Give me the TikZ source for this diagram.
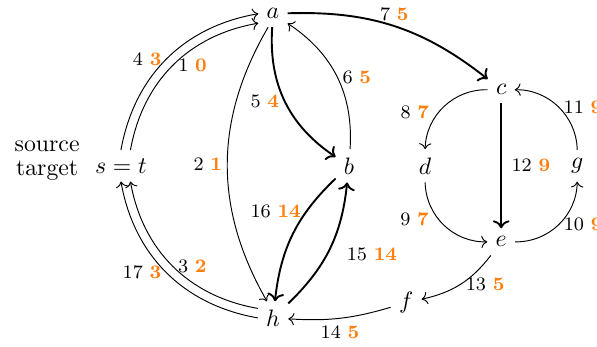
\documentclass[tikz,border=0pt]{standalone}
\usepackage{amsmath}
\usepackage{tikz}
\usetikzlibrary{arrows.meta,positioning}
\definecolor{flowcol}{RGB}{255,127,14}
\newcommand{\fl}[2]{#1~\textbf{\color{flowcol}#2}}

\begin{document}
\begin{tikzpicture}[x=32pt,y=32pt,lbl/.style={font=\footnotesize,inner sep=2pt},heavy/.style={thick}]
\useasboundingbox (-3.59,-0.37) rectangle (4.26,4.18);
\node (h) at (0,0) {$h$};
\node (a) at (0,4) {$a$};
\node (b) at (1,2) {$b$};
\node (d) at (2,2) {$d$};
\node (c) at (3,3) {$c$};
\node (e) at (3,1) {$e$};
\node (g) at (4,2) {$g$};
\node (f) at (1.75,0.2) {$f$};
\node (st) at (-2,2) {$s=t$};
\node[align=center] (src) at (-2.97,2.07) {source\\[-2pt]target};
% edges at the source/target
\draw[->] (st.north) to[bend left=35] node[lbl,left] {\fl{4}{3}} (a.west);
\draw[->] ([xshift=4pt]st.north) to[bend left=35] node[lbl,right] {\fl{1}{0}} ([yshift=-4pt]a.west);
\draw[->] (h.west) to[bend left=35] node[lbl,left] {\fl{17}{3}} (st.south);
\draw[->] ([yshift=4pt]h.west) to[bend left=35] node[lbl,right] {\fl{3}{2}} ([xshift=4pt]st.south);
\draw[->] (a.250) to[bend right=30] node[lbl,left] {\fl{2}{1}} (h.110);
% a, b, h
\draw[->,heavy] (a) to[bend right=30] node[lbl,left] {\fl{5}{4}} (b);
\draw[->] (b) to[bend right=30] node[lbl,right] {\fl{6}{5}} (a);
\draw[->,heavy] (b) to[bend right=20] node[lbl,left,pos=0.3] {\fl{16}{14}} (h);
\draw[->,heavy] (h) to[bend right=20] node[lbl,right=6pt,pos=0.45] {\fl{15}{14}} (b);
% c, d, e, g
\draw[->,heavy] (a) to[bend left=20] node[lbl,above] {\fl{7}{5}} (c);
\foreach \x/\y/\n/\v/\s/\sep/\p in {c/d/8/7/left/2pt/0.58,d/e/9/7/left/2pt/0.42,e/g/10/9/right/0pt/0.5,g/c/11/9/right/0pt/0.5}{\draw[->] (\x) to[bend right=45] node[lbl,\s=\sep,pos=\p] {\fl{\n}{\v}} (\y);}
\draw[->,heavy] (c) -- node[lbl,right=2pt] {\fl{12}{9}} (e);
% back to h
\draw[->] (e) to[bend left=20] node[lbl,right] {\fl{13}{5}} (f);
\draw[->] (f) to[bend left=10] node[lbl,below=1pt] {\fl{14}{5}} (h);
\end{tikzpicture}
\end{document}
